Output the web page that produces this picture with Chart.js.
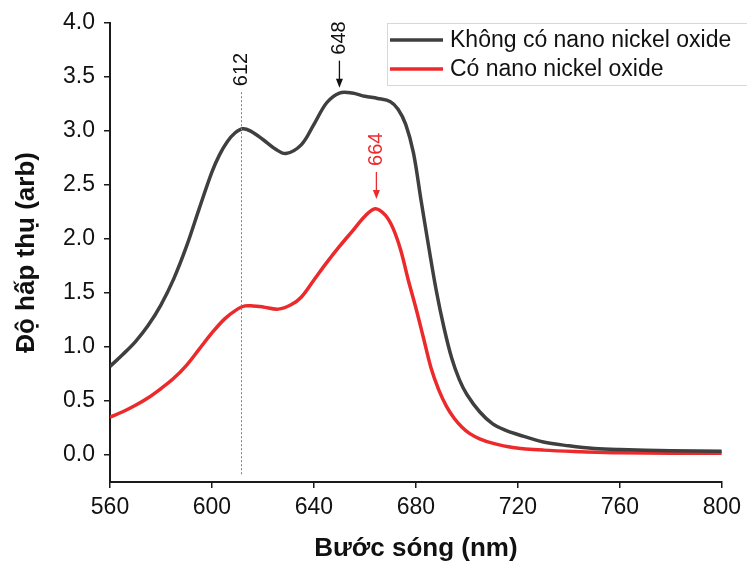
<!DOCTYPE html>
<html>
<head>
<meta charset="utf-8">
<script src="https://cdn.jsdelivr.net/npm/chart.js@4"></script>
<style>
  html, body { margin: 0; padding: 0; background: #fff; }
  #wrap { width: 747px; height: 568px; }
</style>
</head>
<body>
<div id="wrap"><canvas id="absChart"></canvas></div>
<script>
// wavelength (nm) / absorbance
const blackNm  = [560, 565, 570, 575, 580, 585, 590, 595, 600, 603, 606, 609, 612, 615, 620, 625, 629, 635, 640, 645, 650, 655, 660, 665, 670, 673, 676, 679, 682, 685, 688, 691, 694, 697, 700, 705, 710, 715, 720, 730, 740, 750, 760, 780, 800];
const blackAbs = [0.82, 0.93, 1.05, 1.20, 1.39, 1.63, 1.93, 2.28, 2.62, 2.78, 2.90, 2.98, 3.02, 3.00, 2.92, 2.83, 2.79, 2.87, 3.06, 3.26, 3.35, 3.35, 3.32, 3.30, 3.27, 3.20, 3.06, 2.80, 2.36, 1.93, 1.52, 1.18, 0.90, 0.70, 0.56, 0.40, 0.29, 0.23, 0.19, 0.12, 0.085, 0.06, 0.05, 0.04, 0.035];

const redNm  = [560, 565, 570, 575, 580, 585, 590, 595, 600, 605, 610, 613, 616, 620, 626, 631, 635, 640, 645, 650, 655, 660, 664, 668, 671, 674, 677, 680, 683, 686, 689, 692, 695, 698, 701, 705, 710, 718, 730, 745, 760, 800];
const redAbs = [0.35, 0.40, 0.46, 0.53, 0.615, 0.71, 0.83, 0.98, 1.13, 1.26, 1.35, 1.38, 1.38, 1.37, 1.35, 1.39, 1.46, 1.62, 1.78, 1.93, 2.07, 2.21, 2.28, 2.22, 2.10, 1.90, 1.62, 1.36, 1.08, 0.80, 0.60, 0.45, 0.34, 0.26, 0.20, 0.15, 0.11, 0.07, 0.045, 0.03, 0.02, 0.015];

const seriesNames = ["Không có nano nickel oxide", "Có nano nickel oxide"];
const seriesColors = ["#3f3f3f", "#ec2a2c"];

// peak markers: label, wavelength where drawn, absorbance of arrow tip
const peakLabels = ["612", "648", "664"];
const peakNm     = [611.5, 650, 664.5];
const peakTip    = [3.33, 3.40, 2.37];

const FONT = "'Liberation Sans', Arial, sans-serif";

function toPoints(xs, ys) {
  return xs.map((x, i) => ({ x: x, y: ys[i] }));
}

const peakPlugin = {
  id: "peaks",
  afterDatasetsDraw(chart) {
    const ctx = chart.ctx;
    const xs = chart.scales.x;
    const ys = chart.scales.y;
    ctx.save();

    // dotted guide at 612
    const gx = Math.round(xs.getPixelForValue(peakNm[0])) + 0.5;
    ctx.strokeStyle = "#9a7474";
    ctx.lineWidth = 1;
    ctx.setLineDash([2, 2]);
    ctx.beginPath();
    ctx.moveTo(gx, ys.getPixelForValue(peakTip[0]) - 3);
    ctx.lineTo(gx, ys.getPixelForValue(-0.18));
    ctx.stroke();
    ctx.setLineDash([]);

    ctx.font = "20px " + FONT;
    ctx.textBaseline = "middle";
    ctx.textAlign = "left";

    // 612 label above the guide
    let ty = ys.getPixelForValue(peakTip[0]) - 9;
    ctx.fillStyle = "#111";
    ctx.save();
    ctx.translate(gx, ty);
    ctx.rotate(-Math.PI / 2);
    ctx.fillText(peakLabels[0], 0, 0);
    ctx.restore();

    // arrows with labels for 648 and 664
    for (let i = 1; i < peakLabels.length; i++) {
      const color = i === 1 ? "#111" : seriesColors[1];
      const ax = xs.getPixelForValue(peakNm[i]);
      const tip = ys.getPixelForValue(peakTip[i]);
      ctx.strokeStyle = color;
      ctx.fillStyle = color;
      ctx.lineWidth = 1.3;
      ctx.beginPath();
      ctx.moveTo(ax, tip - 27);
      ctx.lineTo(ax, tip - 6);
      ctx.stroke();
      ctx.beginPath();
      ctx.moveTo(ax, tip);
      ctx.lineTo(ax - 3.5, tip - 9);
      ctx.lineTo(ax + 3.5, tip - 9);
      ctx.closePath();
      ctx.fill();
      ctx.save();
      ctx.translate(ax, tip - 33);
      ctx.rotate(-Math.PI / 2);
      ctx.fillText(peakLabels[i], 0, 0);
      ctx.restore();
    }

    // legend box
    const bx = 387, by = 23, bw = 370, bh = 62;
    ctx.fillStyle = "#fff";
    ctx.fillRect(bx, by, bw, bh);
    ctx.strokeStyle = "#d8d8d8";
    ctx.lineWidth = 1;
    ctx.strokeRect(bx + 0.5, by + 0.5, bw, bh);
    ctx.font = "23px " + FONT;
    ctx.textAlign = "left";
    ctx.textBaseline = "middle";
    const rowY = [40, 69];
    for (let i = 0; i < seriesNames.length; i++) {
      ctx.strokeStyle = seriesColors[i];
      ctx.lineWidth = 3.5;
      ctx.beginPath();
      ctx.moveTo(390, rowY[i]);
      ctx.lineTo(443, rowY[i]);
      ctx.stroke();
      ctx.fillStyle = "#111";
      ctx.fillText(seriesNames[i], 450, rowY[i] + 1);
    }
    ctx.restore();
  }
};

new Chart(document.getElementById("absChart"), {
  type: "line",
  data: {
    datasets: [
      {
        label: seriesNames[0],
        data: toPoints(blackNm, blackAbs),
        borderColor: seriesColors[0],
        borderWidth: 3.5,
        pointRadius: 0,
        tension: 0.35,
        fill: false
      },
      {
        label: seriesNames[1],
        data: toPoints(redNm, redAbs),
        borderColor: seriesColors[1],
        borderWidth: 3.5,
        pointRadius: 0,
        tension: 0.35,
        fill: false
      }
    ]
  },
  options: {
    responsive: true,
    maintainAspectRatio: false,
    animation: false,
    layout: { padding: { left: 0, right: 24, top: 22, bottom: 4 } },
    plugins: {
      legend: { display: false },
      tooltip: { enabled: false }
    },
    scales: {
      x: {
        type: "linear",
        min: 560,
        max: 800,
        afterFit: s => { s.height = 82; },
        border: { display: true, color: "#1a1a1a", width: 2 },
        grid: { drawOnChartArea: false, drawTicks: true, tickLength: 6, color: "#1a1a1a", lineWidth: 1.5 },
        ticks: {
          stepSize: 40,
          padding: 6,
          color: "#111",
          font: { family: FONT, size: 23 },
          maxRotation: 0,
          callback: v => String(v)
        },
        title: {
          display: true,
          text: "Bước sóng (nm)",
          color: "#111",
          font: { family: FONT, size: 26, weight: "bold" },
          padding: 0
        }
      },
      y: {
        min: -0.25,
        max: 4.0,
        afterFit: s => { s.width = 110; },
        border: { display: true, color: "#1a1a1a", width: 2 },
        grid: { drawOnChartArea: false, drawTicks: true, tickLength: 6, color: "#1a1a1a", lineWidth: 1.5 },
        ticks: {
          stepSize: 0.5,
          includeBounds: false,
          padding: 9,
          color: "#111",
          font: { family: FONT, size: 23 },
          callback: v => v.toFixed(1)
        },
        title: {
          display: true,
          text: "Độ hấp thụ (arb)",
          color: "#111",
          font: { family: FONT, size: 26, weight: "bold" },
          padding: { top: 11, bottom: 0 }
        }
      }
    }
  },
  plugins: [peakPlugin]
});
</script>
</body>
</html>
